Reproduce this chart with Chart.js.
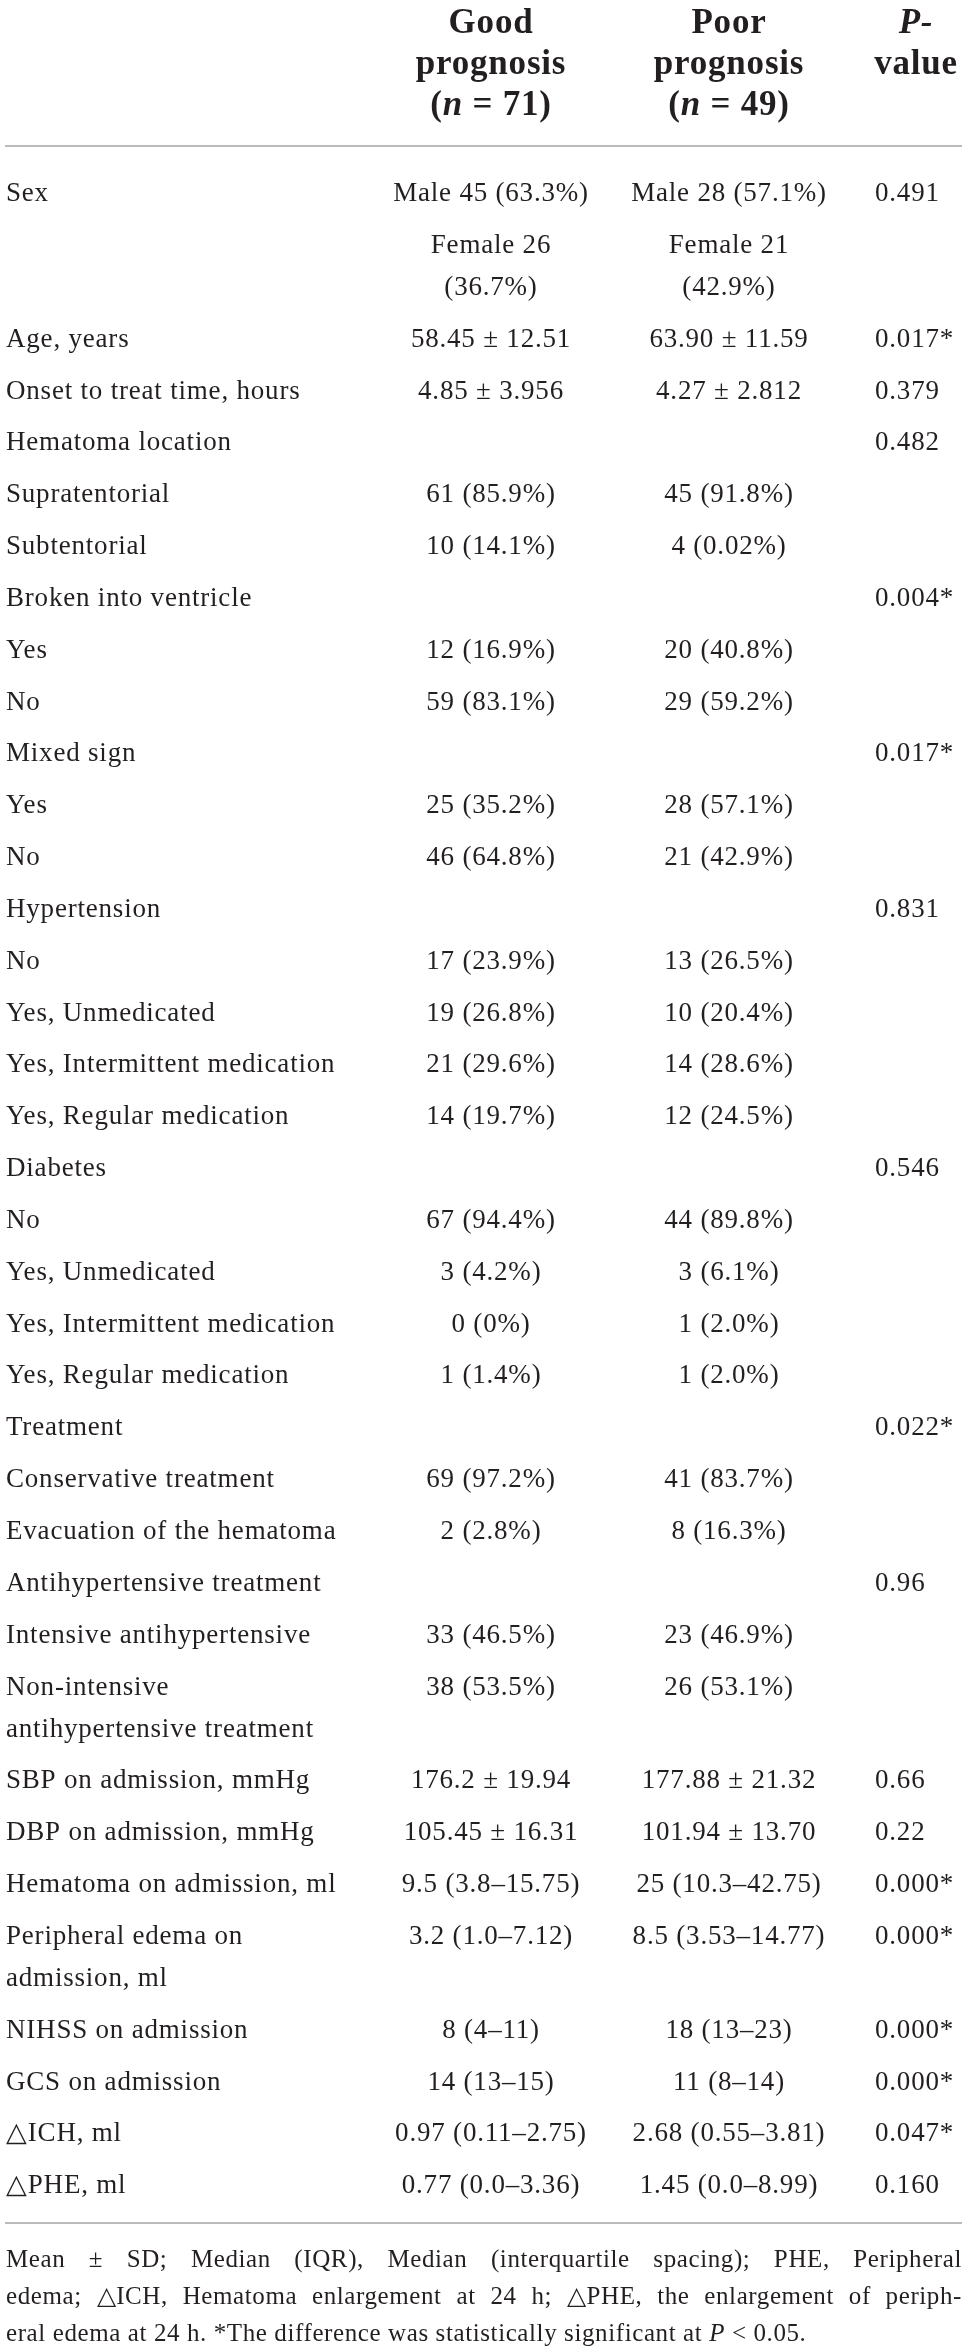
<!DOCTYPE html>
<html>
<head>
<meta charset="utf-8">
<script src="https://cdn.jsdelivr.net/npm/chart.js@4.4.1/dist/chart.umd.min.js"></script>
<style>
    html, body { margin: 0; padding: 0; background: #fff; }
    #wrap { width: 968px; height: 2351px; position: relative; }
</style>
</head>
<body>
<div id="wrap"><canvas id="table"></canvas></div>
<script>
/* Table data - text wrapped in _ _ is italic, arrays are multi-line cells */

const headGood = ["Good", "prognosis", "(_n_ = 71)"];
const headPoor = ["Poor", "prognosis", "(_n_ = 49)"];
const headP = ["_P-_", "value"];

const variables = [
    "Sex", "", "Age, years", "Onset to treat time, hours",
    "Hematoma location", "Supratentorial", "Subtentorial",
    "Broken into ventricle", "Yes", "No",
    "Mixed sign", "Yes", "No",
    "Hypertension", "No", "Yes, Unmedicated", "Yes, Intermittent medication", "Yes, Regular medication",
    "Diabetes", "No", "Yes, Unmedicated", "Yes, Intermittent medication", "Yes, Regular medication",
    "Treatment", "Conservative treatment", "Evacuation of the hematoma",
    "Antihypertensive treatment", "Intensive antihypertensive", ["Non-intensive", "antihypertensive treatment"],
    "SBP on admission, mmHg", "DBP on admission, mmHg", "Hematoma on admission, ml",
    ["Peripheral edema on", "admission, ml"], "NIHSS on admission", "GCS on admission",
    "\u25B3ICH, ml", "\u25B3PHE, ml"
];

const goodPrognosis = [
    "Male 45 (63.3%)", ["Female 26", "(36.7%)"], "58.45 \u00B1 12.51", "4.85 \u00B1 3.956",
    "", "61 (85.9%)", "10 (14.1%)",
    "", "12 (16.9%)", "59 (83.1%)",
    "", "25 (35.2%)", "46 (64.8%)",
    "", "17 (23.9%)", "19 (26.8%)", "21 (29.6%)", "14 (19.7%)",
    "", "67 (94.4%)", "3 (4.2%)", "0 (0%)", "1 (1.4%)",
    "", "69 (97.2%)", "2 (2.8%)",
    "", "33 (46.5%)", "38 (53.5%)",
    "176.2 \u00B1 19.94", "105.45 \u00B1 16.31", "9.5 (3.8\u201315.75)",
    "3.2 (1.0\u20137.12)", "8 (4\u201311)", "14 (13\u201315)",
    "0.97 (0.11\u20132.75)", "0.77 (0.0\u20133.36)"
];

const poorPrognosis = [
    "Male 28 (57.1%)", ["Female 21", "(42.9%)"], "63.90 \u00B1 11.59", "4.27 \u00B1 2.812",
    "", "45 (91.8%)", "4 (0.02%)",
    "", "20 (40.8%)", "29 (59.2%)",
    "", "28 (57.1%)", "21 (42.9%)",
    "", "13 (26.5%)", "10 (20.4%)", "14 (28.6%)", "12 (24.5%)",
    "", "44 (89.8%)", "3 (6.1%)", "1 (2.0%)", "1 (2.0%)",
    "", "41 (83.7%)", "8 (16.3%)",
    "", "23 (46.9%)", "26 (53.1%)",
    "177.88 \u00B1 21.32", "101.94 \u00B1 13.70", "25 (10.3\u201342.75)",
    "8.5 (3.53\u201314.77)", "18 (13\u201323)", "11 (8\u201314)",
    "2.68 (0.55\u20133.81)", "1.45 (0.0\u20138.99)"
];

const pValues = [
    "0.491", "", "0.017*", "0.379",
    "0.482", "", "",
    "0.004*", "", "",
    "0.017*", "", "",
    "0.831", "", "", "", "",
    "0.546", "", "", "", "",
    "0.022*", "", "",
    "0.96", "", "",
    "0.66", "0.22", "0.000*",
    "0.000*", "0.000*", "0.000*",
    "0.047*", "0.160"
];

const footnote = [
    "Mean \u00B1 SD; Median (IQR), Median (interquartile spacing); PHE, Peripheral",
    "edema; \u25B3ICH, Hematoma enlargement at 24 h; \u25B3PHE, the enlargement of periph-",
    "eral edema at 24 h. *The difference was statistically significant at _P_ < 0.05."
];

/* layout */
const W = 968, H = 2351;
const FAMILY = '"Liberation Serif", "Times New Roman", serif';
const INK = "#231f20";
const COL = { label: 6, good: 491, poor: 729, p: 875, pHead: 916 };
const FIRST_ROW = 192, ROW_PITCH = 51.84, LINE_GAP = 42, BASE_SHIFT = 9;
const HEAD_BASE = [33, 74, 115];
const TOP_RULE = 146, BOTTOM_RULE = 2223, RULE_L = 5, RULE_R = 962;
const FOOT_BASE = [2267, 2304, 2341];

const lines = c => [].concat(c);
const rowY = [];
let yy = FIRST_ROW;
variables.forEach((v, i) => {
    rowY.push(yy);
    const n = Math.max(lines(v).length, lines(goodPrognosis[i]).length, lines(poorPrognosis[i]).length);
    yy += ROW_PITCH + (n - 1) * LINE_GAP;
});

const columns = [
    { name: "Variables", cells: variables, x: COL.label, align: "left" },
    { name: "Good prognosis", cells: goodPrognosis, x: COL.good, align: "center" },
    { name: "Poor prognosis", cells: poorPrognosis, x: COL.poor, align: "center" },
    { name: "P-value", cells: pValues, x: COL.p, align: "left" }
];

function setSpacing(ctx, px) {
    if ("letterSpacing" in ctx) ctx.letterSpacing = px + "px";
}

function fontOf(size, bold, italic) {
    return (italic ? "italic " : "") + (bold ? "bold " : "") + size + "px " + FAMILY;
}

// draw a line with _italic_ pieces
function drawRich(ctx, text, x, y, align, size, bold) {
    const parts = text.split("_");
    let total = 0;
    parts.forEach((p, k) => {
        ctx.font = fontOf(size, bold, k % 2 === 1);
        total += ctx.measureText(p).width;
    });
    let cx = align === "center" ? x - total / 2 : align === "right" ? x - total : x;
    ctx.textAlign = "left";
    parts.forEach((p, k) => {
        ctx.font = fontOf(size, bold, k % 2 === 1);
        ctx.fillText(p, cx, y);
        cx += ctx.measureText(p).width;
    });
}

function drawJustified(ctx, text, left, right, y) {
    const words = text.split(" ");
    const widths = words.map(w => ctx.measureText(w).width);
    const sum = widths.reduce((a, b) => a + b, 0);
    const gap = (right - left - sum) / (words.length - 1);
    let cx = left;
    words.forEach((w, k) => {
        ctx.fillText(w, cx, y);
        cx += widths[k] + gap;
    });
}

const tablePlugin = {
    id: "tableText",
    afterDatasetsDraw(chart) {
        const { ctx, scales: { x, y } } = chart;
        ctx.save();
        ctx.fillStyle = INK;
        ctx.textBaseline = "alphabetic";

        // header
        setSpacing(ctx, 0.8);
        headGood.forEach((t, j) => drawRich(ctx, t, x.getPixelForValue(COL.good), y.getPixelForValue(HEAD_BASE[j]), "center", 35, true));
        headPoor.forEach((t, j) => drawRich(ctx, t, x.getPixelForValue(COL.poor), y.getPixelForValue(HEAD_BASE[j]), "center", 35, true));
        headP.forEach((t, j) => drawRich(ctx, t, x.getPixelForValue(COL.pHead), y.getPixelForValue(HEAD_BASE[j]), "center", 35, true));

        // rules
        ctx.strokeStyle = "#a3a3a3";
        ctx.lineWidth = 1.5;
        [TOP_RULE, BOTTOM_RULE].forEach(r => {
            const py = y.getPixelForValue(r);
            ctx.beginPath();
            ctx.moveTo(x.getPixelForValue(RULE_L), py);
            ctx.lineTo(x.getPixelForValue(RULE_R), py);
            ctx.stroke();
        });

        // body cells, one point per cell
        setSpacing(ctx, 0.8);
        chart.data.datasets.forEach((ds, di) => {
            const meta = chart.getDatasetMeta(di);
            meta.data.forEach((pt, i) => {
                lines(ds.cells[i]).forEach((t, j) => {
                    if (!t) return;
                    const py = y.getPixelForValue(ds.data[i].y + j * LINE_GAP) + BASE_SHIFT;
                    drawRich(ctx, t, pt.x, py, ds.align, 27, false);
                });
            });
        });

        // footnote
        setSpacing(ctx, 0.6);
        ctx.font = fontOf(25, false, false);
        const fl = x.getPixelForValue(COL.label), fr = x.getPixelForValue(RULE_R);
        drawJustified(ctx, footnote[0], fl, fr, y.getPixelForValue(FOOT_BASE[0]));
        drawJustified(ctx, footnote[1], fl, fr, y.getPixelForValue(FOOT_BASE[1]));
        drawRich(ctx, footnote[2], fl, y.getPixelForValue(FOOT_BASE[2]), "left", 25, false);
        ctx.restore();
    }
};

new Chart(document.getElementById("table"), {
    type: "scatter",
    data: {
        datasets: columns.map(c => ({
            label: c.name,
            cells: c.cells,
            align: c.align,
            data: c.cells.map((_, i) => ({ x: c.x, y: rowY[i] })),
            pointRadius: 0,
            pointHoverRadius: 0
        }))
    },
    options: {
        responsive: true,
        maintainAspectRatio: false,
        animation: false,
        events: [],
        layout: { padding: 0 },
        scales: {
            x: { type: "linear", min: 0, max: W, display: false },
            y: { type: "linear", min: 0, max: H, reverse: true, display: false }
        },
        plugins: { legend: { display: false }, tooltip: { enabled: false } }
    },
    plugins: [tablePlugin]
});
</script>
</body>
</html>
